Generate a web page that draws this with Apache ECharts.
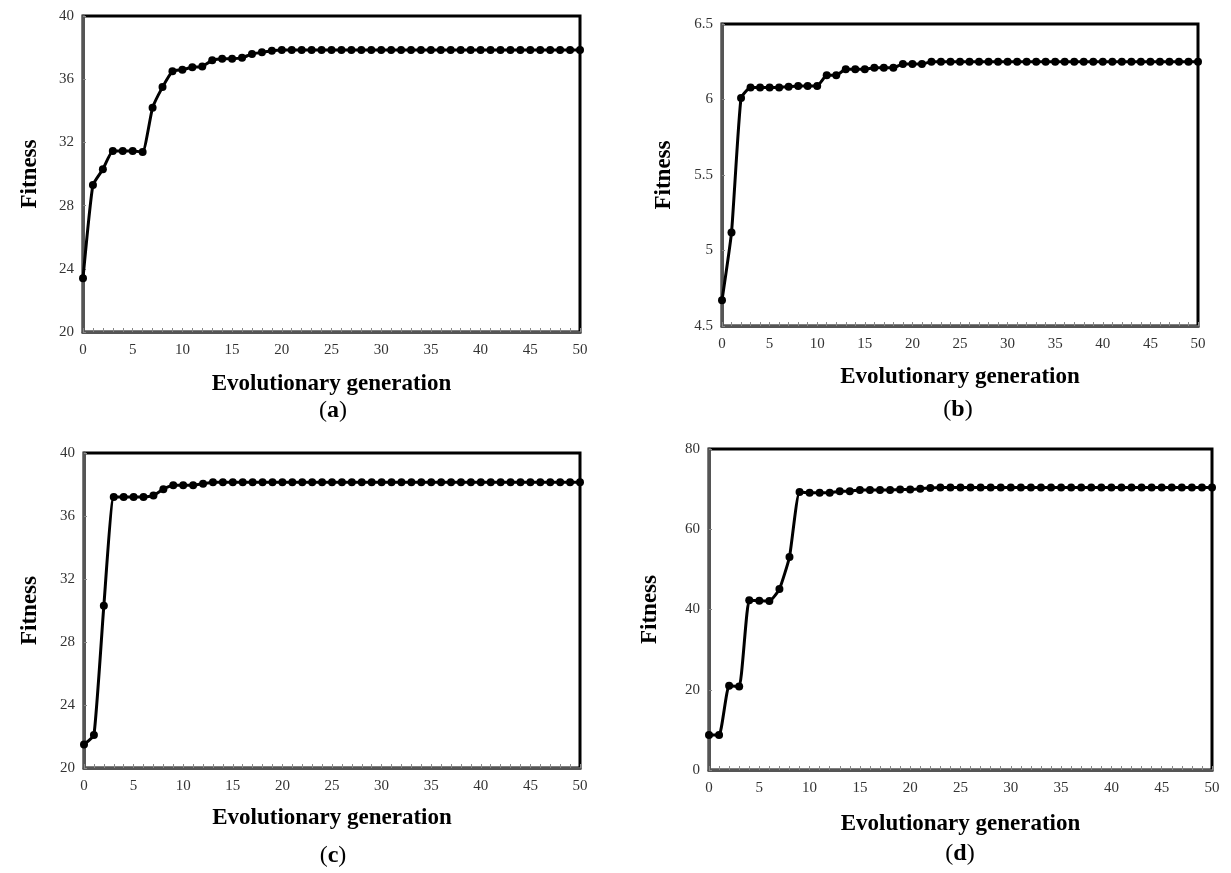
<!DOCTYPE html>
<html style="height: 100%">
<head>
<meta charset="UTF-8">
<title>Fitness curves</title>
<script src="https://cdn.jsdelivr.net/npm/echarts@6/dist/echarts.min.js"></script>
</head>
<body style="height: 100%; margin: 0; background: #fff">
<div id="chart" style="width: 1231px; height: 873px"></div>
<script type="text/javascript">
// generations 0..50 and fitness
var fitA = [23.4, 29.3, 30.3, 31.45, 31.45, 31.45, 31.4, 34.2, 35.5, 36.5,
	36.6, 36.75, 36.8, 37.2, 37.3, 37.3, 37.35, 37.6, 37.7, 37.8,
	37.85, 37.85, 37.85, 37.85, 37.85, 37.85, 37.85, 37.85, 37.85, 37.85,
	37.85, 37.85, 37.85, 37.85, 37.85, 37.85, 37.85, 37.85, 37.85, 37.85,
	37.85, 37.85, 37.85, 37.85, 37.85, 37.85, 37.85, 37.85, 37.85, 37.85, 37.85];
var fitB = [4.67, 5.12, 6.01, 6.08, 6.08, 6.08, 6.08, 6.085, 6.09, 6.09,
	6.09, 6.16, 6.16, 6.2, 6.2, 6.2, 6.21, 6.21, 6.21, 6.235,
	6.235, 6.235, 6.25, 6.25, 6.25, 6.25, 6.25, 6.25, 6.25, 6.25,
	6.25, 6.25, 6.25, 6.25, 6.25, 6.25, 6.25, 6.25, 6.25, 6.25,
	6.25, 6.25, 6.25, 6.25, 6.25, 6.25, 6.25, 6.25, 6.25, 6.25, 6.25];
var fitC = [21.5, 22.1, 30.3, 37.2, 37.2, 37.2, 37.2, 37.3, 37.7, 37.95,
	37.95, 37.95, 38.05, 38.15, 38.15, 38.15, 38.15, 38.15, 38.15, 38.15,
	38.15, 38.15, 38.15, 38.15, 38.15, 38.15, 38.15, 38.15, 38.15, 38.15,
	38.15, 38.15, 38.15, 38.15, 38.15, 38.15, 38.15, 38.15, 38.15, 38.15,
	38.15, 38.15, 38.15, 38.15, 38.15, 38.15, 38.15, 38.15, 38.15, 38.15, 38.15];
var fitD = [8.7, 8.7, 21, 20.8, 42.3, 42.2, 42.1, 45.1, 53.1, 69.3,
	69.1, 69.1, 69.1, 69.5, 69.5, 69.8, 69.8, 69.8, 69.8, 69.9,
	69.9, 70.1, 70.3, 70.4, 70.4, 70.4, 70.4, 70.4, 70.4, 70.4,
	70.4, 70.4, 70.4, 70.4, 70.4, 70.4, 70.4, 70.4, 70.4, 70.4,
	70.4, 70.4, 70.4, 70.4, 70.4, 70.4, 70.4, 70.4, 70.4, 70.4, 70.4];

// y ranges [min, max, interval]
var yRanges = [[20, 40, 4], [4.5, 6.5, 0.5], [20, 40, 4], [0, 80, 20]];
var panelLabels = ['a', 'b', 'c', 'd'];

var serif = 'Liberation Serif';

// plot areas in pixels
var grids = [
	{left: 83, top: 16, width: 497, height: 316},
	{left: 722, top: 24, width: 476, height: 302},
	{left: 84, top: 453, width: 496, height: 315},
	{left: 709, top: 449, width: 503, height: 321}
];
var yNameGaps = [41, 46, 42, 47];
var xNameGaps = [41, 40, 39, 43];
var labelPos = [[333, 411], [958, 410], [333, 856], [960, 854]];

function toPairs(arr){
	var out = [];
	for (var i = 0; i < arr.length; i++) out.push([i, arr[i]]);
	return out;
}

var allFit = [fitA, fitB, fitC, fitD];
var gridOpt = [], xAxes = [], yAxes = [], series = [], graphics = [];

for (var k = 0; k < 4; k++) {
	var g = grids[k];
	gridOpt.push({
		left: g.left, top: g.top, width: g.width, height: g.height,
		show: true, borderColor: '#000', borderWidth: 3, backgroundColor: '#fff'
	});
	xAxes.push({
		gridIndex: k, type: 'value', min: 0, max: 50, interval: 5,
		name: 'Evolutionary generation', nameLocation: 'middle', nameGap: xNameGaps[k],
		nameMoveOverlap: false,
		nameTextStyle: {fontFamily: serif, fontWeight: 'bold', fontSize: 23, color: '#000'},
		axisLine: {show: true, lineStyle: {color: '#555', width: 3}},
		axisTick: {show: true, inside: true, length: 4, lineStyle: {color: '#888', width: 1}},
		minorTick: {show: true, splitNumber: 5, length: 4, lineStyle: {color: '#888', width: 1}},
		axisLabel: {fontFamily: serif, fontSize: 15, color: '#333', margin: 11},
		splitLine: {show: false}
	});
	yAxes.push({
		gridIndex: k, type: 'value', min: yRanges[k][0], max: yRanges[k][1], interval: yRanges[k][2],
		name: 'Fitness', nameLocation: 'middle', nameGap: yNameGaps[k], nameRotate: 90,
		nameMoveOverlap: false,
		nameTextStyle: {fontFamily: serif, fontWeight: 'bold', fontSize: 23, color: '#000'},
		axisLine: {show: true, lineStyle: {color: '#555', width: 3}},
		axisTick: {show: true, inside: true, length: 3, lineStyle: {color: '#888', width: 1}},
		axisLabel: {fontFamily: serif, fontSize: 15, color: '#333', margin: 9},
		splitLine: {show: false}
	});
	series.push({
		type: 'line', xAxisIndex: k, yAxisIndex: k,
		data: toPairs(allFit[k]),
		smooth: 0.15,
		symbol: 'circle', symbolSize: 8,
		itemStyle: {color: '#000'},
		lineStyle: {color: '#000', width: 3},
		clip: false
	});
	graphics.push({
		type: 'text', x: labelPos[k][0], y: labelPos[k][1],
		style: {
			text: '{p|(}{b|' + panelLabels[k] + '}{p|)}',
			rich: {
				p: {fontFamily: serif, fontSize: 24, color: '#000'},
				b: {fontFamily: serif, fontSize: 24, fontWeight: 'bold', color: '#000'}
			},
			align: 'center', verticalAlign: 'middle'
		}
	});
}

var myChart = echarts.init(document.getElementById('chart'));
var option = {
	animation: false,
	grid: gridOpt,
	xAxis: xAxes,
	yAxis: yAxes,
	series: series,
	graphic: graphics
};
myChart.setOption(option, true);
</script>
</body>
</html>
